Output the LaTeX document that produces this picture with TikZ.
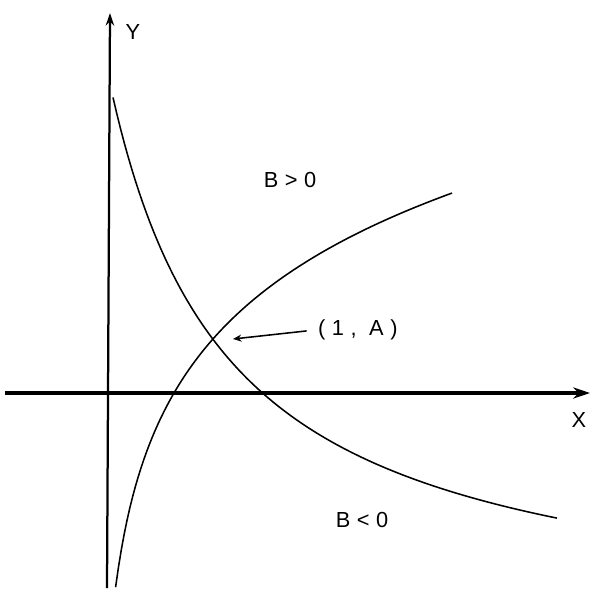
\documentclass[tikz,border=0pt]{standalone}
\usepackage{fontspec}
\setmainfont{Liberation Sans}[LetterSpace=30]
\usetikzlibrary{positioning,arrows.meta}

\begin{document}
\begin{tikzpicture}[x=0.025cm,y=0.025cm,
  font=\fontsize{15.5}{18}\selectfont,
  xaxis/.style={line width=2.6pt,-{Stealth[length=12pt,width=8pt]}},
  yaxis/.style={line width=1.6pt,-{Stealth[length=9pt,width=6pt]}},
  curve/.style={line width=1.1pt,samples=120},
  lbl/.style={inner sep=2pt},
  >={Stealth[length=6pt,width=5pt]}]
\useasboundingbox (-109,-201) rectangle (487,393);
% axes
\coordinate (O) at (0,0);
\coordinate (xs) at (-104,0);
\coordinate (xe) at (481,0);
\coordinate (ys) at (-2,-195);
\coordinate (ye) at (1,380);
\draw[xaxis] (xs) -- (xe);
\draw[yaxis] (ys) -- (ye);
\node[lbl] (X) at (470,-27) {X};
\node[lbl] (Y) at (24,361) {Y};
% the two curves through (1,A), one unit = 104
\coordinate (P) at (104,54);
\draw[curve] plot[domain=4:448] (\x,{104*(6.02/(\x/104+1.13)-2.31)});
\draw[curve] plot[domain=6.6:343] (\x,{104*(0.4075+1.24*ln(\x/104+0.095))});
\node[lbl] (Bpos) at (181,213) {B>0};
\node[lbl] (Bneg) at (253,-127) {B<0};
% point label
\node[lbl,anchor=west] (pt) at (206,63) {(1, A)};
\coordinate (tip) at (124,54);
\draw[->,line width=1.1pt,shorten <=6pt] (pt.west) -- (tip);
\end{tikzpicture}
\end{document}
